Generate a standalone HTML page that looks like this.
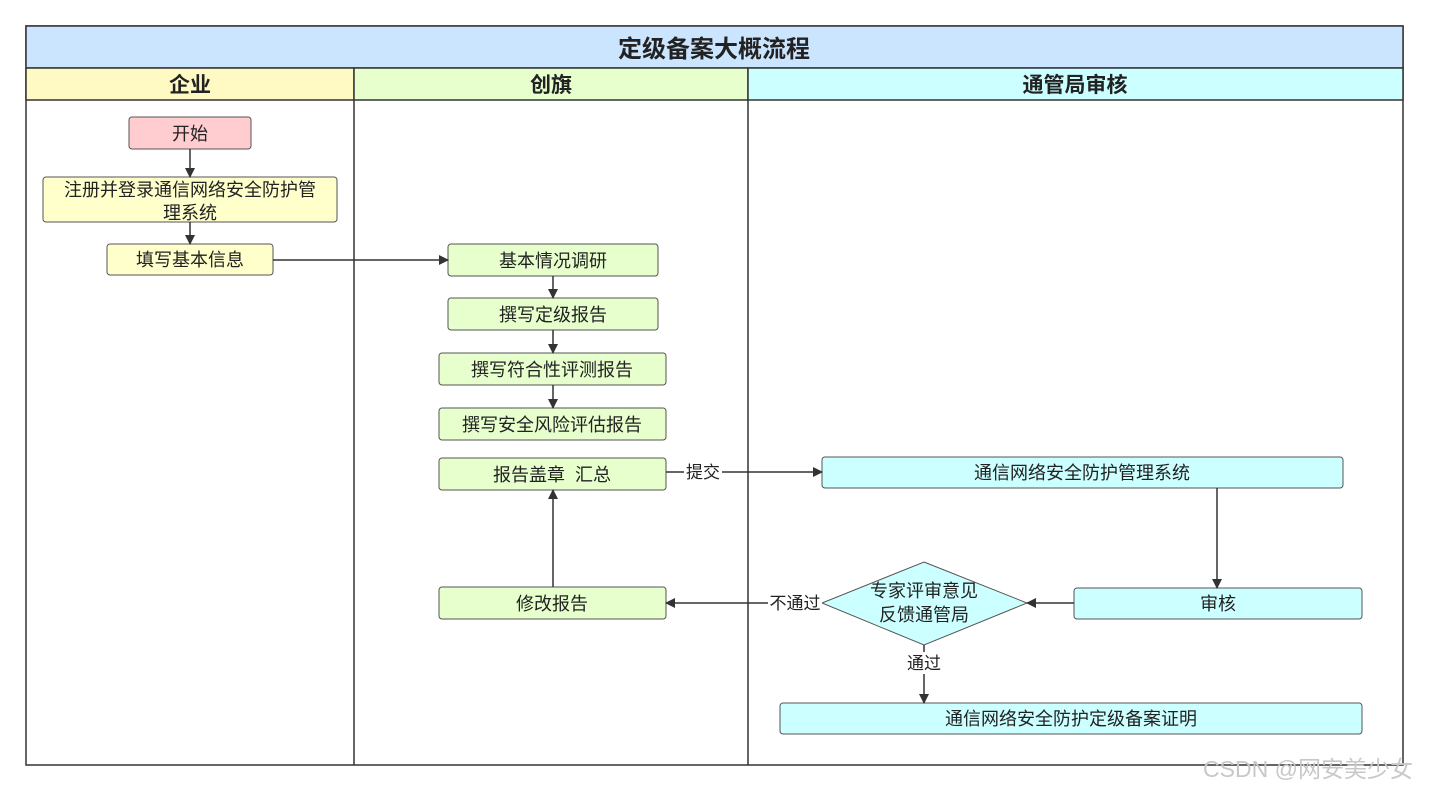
<!DOCTYPE html>
<html><head><meta charset="utf-8"><style>
body{margin:0;background:#fff;}
svg text{font-family:"Liberation Sans","Noto Sans CJK SC",sans-serif;fill:#222;}
</style></head><body>
<svg width="1431" height="792" viewBox="0 0 1431 792" xmlns="http://www.w3.org/2000/svg">
<defs><marker id="a" markerWidth="10" markerHeight="10" refX="9" refY="5" orient="auto" markerUnits="userSpaceOnUse"><path d="M0,0 L10,5 L0,10 z" fill="#333"/></marker></defs>
<rect x="26" y="26" width="1377" height="739" fill="#fff" stroke="#333" stroke-width="1.5"/>
<rect x="26" y="26" width="1377" height="42" fill="#cce5ff" stroke="#333" stroke-width="1.5"/>
<text x="714" y="57" font-size="24" font-weight="bold" text-anchor="middle">定级备案大概流程</text>
<rect x="26" y="68" width="328" height="32" fill="#fff9c4" stroke="#333" stroke-width="1.5"/>
<rect x="354" y="68" width="394" height="32" fill="#e6ffcc" stroke="#333" stroke-width="1.5"/>
<rect x="748" y="68" width="655" height="32" fill="#ccffff" stroke="#333" stroke-width="1.5"/>
<text x="190" y="92" font-size="21" font-weight="bold" text-anchor="middle">企业</text>
<text x="551" y="92" font-size="21" font-weight="bold" text-anchor="middle">创旗</text>
<text x="1075" y="92" font-size="21" font-weight="bold" text-anchor="middle">通管局审核</text>
<line x1="354" y1="100" x2="354" y2="765" stroke="#333" stroke-width="1.5"/>
<line x1="748" y1="100" x2="748" y2="765" stroke="#333" stroke-width="1.5"/>
<g stroke="#555" stroke-width="1">
<rect x="129" y="117" width="122" height="32" rx="3" fill="#ffccd0"/>
<rect x="43" y="177" width="294" height="45" rx="3" fill="#ffffcc"/>
<rect x="107" y="244" width="166" height="31" rx="3" fill="#ffffcc"/>
<rect x="448" y="244" width="210" height="32" rx="3" fill="#e6ffcc"/>
<rect x="448" y="298" width="210" height="32" rx="3" fill="#e6ffcc"/>
<rect x="439" y="353" width="227" height="32" rx="3" fill="#e6ffcc"/>
<rect x="439" y="408" width="227" height="32" rx="3" fill="#e6ffcc"/>
<rect x="439" y="458" width="227" height="32" rx="3" fill="#e6ffcc"/>
<rect x="439" y="587" width="227" height="32" rx="3" fill="#e6ffcc"/>
<rect x="822" y="457" width="521" height="31" rx="3" fill="#ccffff"/>
<rect x="1074" y="588" width="288" height="31" rx="3" fill="#ccffff"/>
<rect x="780" y="703" width="582" height="31" rx="3" fill="#ccffff"/>
<polygon points="924,562 1027,603 924,645 822,603" fill="#ccffff"/>
</g>
<g font-size="18" text-anchor="middle">
<text x="190" y="140">开始</text>
<text x="190" y="196">注册并登录通信网络安全防护管</text>
<text x="190" y="219">理系统</text>
<text x="190" y="266">填写基本信息</text>
<text x="553" y="267">基本情况调研</text>
<text x="553" y="321">撰写定级报告</text>
<text x="552" y="376">撰写符合性评测报告</text>
<text x="552" y="431">撰写安全风险评估报告</text>
<text x="552" y="481">报告盖章&#160;&#160;汇总</text>
<text x="552" y="610">修改报告</text>
<text x="1082" y="479">通信网络安全防护管理系统</text>
<text x="1218" y="610">审核</text>
<text x="1071" y="725">通信网络安全防护定级备案证明</text>
<text x="924" y="597">专家评审意见</text>
<text x="924" y="621">反馈通管局</text>
</g>
<g stroke="#333" stroke-width="1.5" fill="none" marker-end="url(#a)">
<line x1="190" y1="149" x2="190" y2="177"/>
<line x1="190" y1="222" x2="190" y2="244"/>
<line x1="273" y1="260" x2="448" y2="260"/>
<line x1="553" y1="276" x2="553" y2="298"/>
<line x1="553" y1="330" x2="553" y2="353"/>
<line x1="553" y1="385" x2="553" y2="408"/>
<line x1="553" y1="587" x2="553" y2="490"/>
<line x1="666" y1="472" x2="822" y2="472"/>
<line x1="1217" y1="488" x2="1217" y2="588"/>
<line x1="1074" y1="603" x2="1027" y2="603"/>
<line x1="822" y1="603" x2="666" y2="603"/>
<line x1="924" y1="645" x2="924" y2="703"/>
</g>
<g font-size="17" text-anchor="middle">
<rect x="684" y="462" width="38" height="20" fill="#fff"/><text x="703" y="478">提交</text>
<rect x="768" y="593" width="54" height="20" fill="#fff"/><text x="795" y="609">不通过</text>
<rect x="904" y="652" width="40" height="22" fill="#fff"/><text x="924" y="669">通过</text>
</g>
<text x="1308" y="777" font-size="23" style="fill:#c8c8c8" text-anchor="middle">CSDN @网安美少女</text>
</svg>
</body></html>
